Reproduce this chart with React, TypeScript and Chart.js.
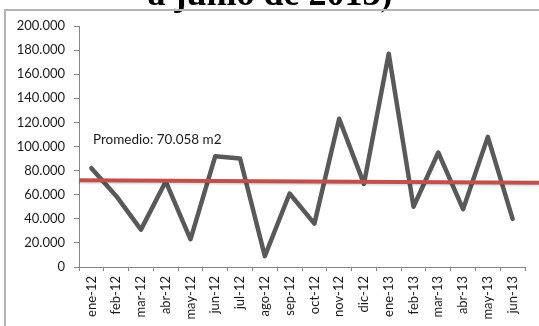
import React, { useEffect, useRef } from "react";
import { Chart, registerables } from "chart.js";

Chart.register(...registerables);

const categories = [
  "ene-12", "feb-12", "mar-12", "abr-12", "may-12", "jun-12",
  "jul-12", "ago-12", "sep-12", "oct-12", "nov-12", "dic-12",
  "ene-13", "feb-13", "mar-13", "abr-13", "may-13", "jun-13",
];
const areaValues = [
  82000, 59000, 31000, 71000, 23000, 92000,
  90000, 9000, 61000, 36000, 123000, 69000,
  177000, 50000, 95000, 48000, 108000, 40000,
];
// average line: value at left edge of plot, value at right edge of frame
const averageLine = [72000, 70000];
const averageLabel = "Promedio: 70.058 m2";
const averageLabelValue = 106000;
const titleTail = "a junio de 2013)";
const yMin = 0;
const yMax = 200000;
const yStep = 20000;

const fmt = (v: number) => {
  if (v === 0) return "0";
  const s = Math.round(v).toString();
  return s.replace(/\B(?=(\d{3})+(?!\d))/g, ".");
};

const decorPlugin = {
  id: "decor",
  beforeDraw(chart: any) {
    const ctx = chart.ctx;
    ctx.save();
    ctx.fillStyle = "#ffffff";
    ctx.fillRect(0, 0, chart.width, chart.height);
    // title tail (cut off)
    ctx.fillStyle = "#000000";
    ctx.font = "bold 36px 'Liberation Serif', 'DejaVu Serif', serif";
    ctx.textAlign = "center";
    ctx.textBaseline = "alphabetic";
    ctx.fillText(titleTail, 270, 5);
    // frame
    ctx.strokeStyle = "#b3b3b3";
    ctx.lineWidth = 2;
    ctx.beginPath();
    ctx.moveTo(5, chart.height);
    ctx.lineTo(5, 10);
    ctx.lineTo(chart.width, 10);
    ctx.stroke();
    ctx.restore();
  },
  afterDatasetsDraw(chart: any) {
    const ctx = chart.ctx;
    const y = chart.scales.y;
    const area = chart.chartArea;
    const x0 = area.left;
    const x1 = chart.width;
    const y0 = y.getPixelForValue(averageLine[0]);
    const y1 = y.getPixelForValue(averageLine[1]);
    ctx.save();
    ctx.shadowColor = "rgba(0,0,0,0.15)";
    ctx.shadowBlur = 2;
    ctx.shadowOffsetY = 1.5;
    ctx.strokeStyle = "#c0504d";
    ctx.lineWidth = 4;
    ctx.beginPath();
    ctx.moveTo(x0, y0);
    ctx.lineTo(x1, y1);
    ctx.stroke();
    ctx.restore();

    ctx.save();
    ctx.fillStyle = "#1a1a1a";
    ctx.font = "13.5px Lato, 'Open Sans', sans-serif";
    ctx.textAlign = "left";
    ctx.textBaseline = "middle";
    ctx.fillText(averageLabel, area.left + 14, y.getPixelForValue(averageLabelValue));
    ctx.restore();
  },
};

export default function App() {
  const ref = useRef<HTMLCanvasElement>(null);
  useEffect(() => {
    if (!ref.current) return;
    const tickFont = { family: "Lato, 'Open Sans', sans-serif", size: 13 };
    const chart = new Chart(ref.current, {
      type: "line",
      data: {
        labels: categories,
        datasets: [
          {
            data: areaValues,
            borderColor: "#595959",
            borderWidth: 4.5,
            borderCapStyle: "round",
            borderJoinStyle: "round",
            pointRadius: 0,
            fill: false,
            tension: 0,
          },
        ],
      },
      options: {
        responsive: false,
        animation: false,
        layout: { padding: { top: 26, right: 14, left: 0, bottom: 0 } },
        plugins: {
          legend: { display: false },
          tooltip: { enabled: false },
          title: { display: false },
        },
        scales: {
          x: {
            offset: true,
            grid: {
              offset: true,
              drawOnChartArea: false,
              drawTicks: true,
              tickLength: 4,
              color: "#868686",
            },
            border: { display: true, color: "#868686", width: 1 },
            ticks: {
              autoSkip: false,
              minRotation: 90,
              maxRotation: 90,
              padding: 5,
              color: "#1a1a1a",
              font: tickFont,
            },
            afterFit: (s: any) => {
              s.height = 59;
            },
          },
          y: {
            min: yMin,
            max: yMax,
            grid: {
              drawOnChartArea: false,
              drawTicks: true,
              tickLength: 5,
              color: "#868686",
            },
            border: { display: true, color: "#868686", width: 1 },
            ticks: {
              stepSize: yStep,
              padding: 9,
              color: "#1a1a1a",
              font: tickFont,
              callback: (v: any) => fmt(Number(v)),
            },
            afterFit: (s: any) => {
              s.width = 79;
            },
          },
        },
      },
      plugins: [decorPlugin],
    });
    return () => chart.destroy();
  }, []);
  return (
    <div style={{ position: "absolute", left: 0, top: 0, width: 539, height: 326 }}>
      <canvas ref={ref} width={539} height={326} style={{ display: "block" }} />
    </div>
  );
}
